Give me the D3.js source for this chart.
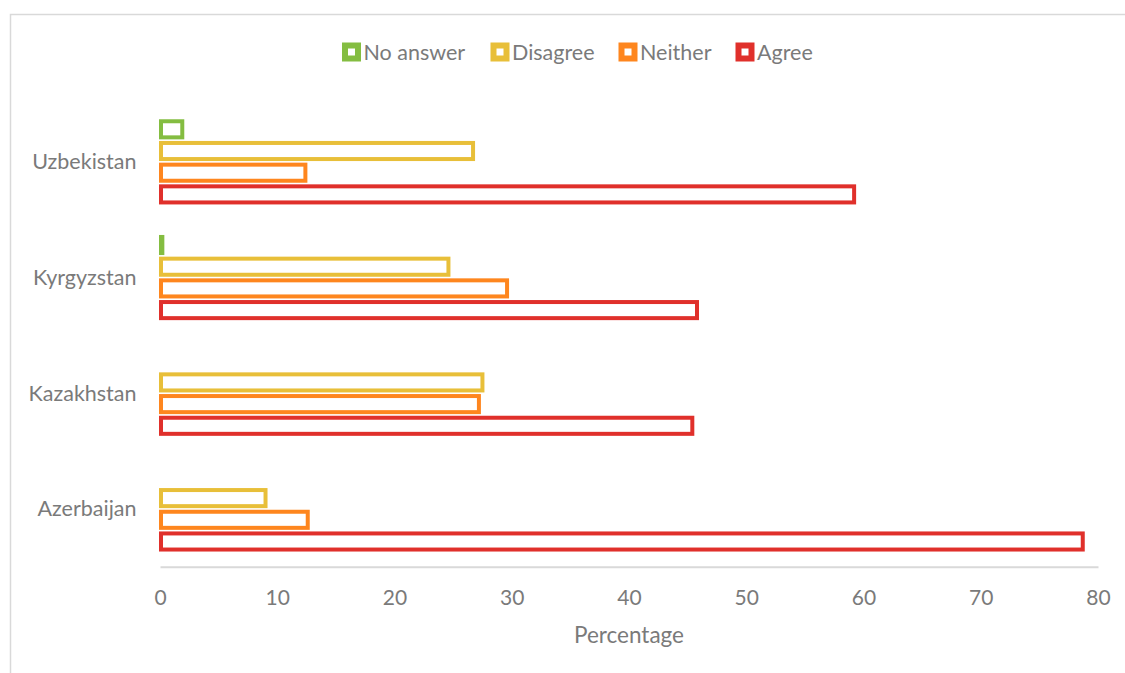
<!DOCTYPE html>
<html>
<head>
<meta charset="utf-8">
<script src="https://cdn.jsdelivr.net/npm/d3@7"></script>
<style>
  html, body { margin: 0; padding: 0; background: #ffffff; }
  svg { display: block; }
  text { font-family: Lato, "Open Sans", sans-serif; fill: #7a7a7a; }
</style>
</head>
<body>
<svg id="chart" width="1125" height="673"></svg>
<script>
// Survey answers by country, percentage of respondents
const countries = ["Uzbekistan", "Kyrgyzstan", "Kazakhstan", "Azerbaijan"];
const seriesNames = ["No answer", "Disagree", "Neither", "Agree"];
const seriesColors = ["#84bd41", "#e8bf39", "#fe861e", "#e0302b"];
const noAnswer = [1.9, 0.2, 0, 0];
const disagree = [26.7, 24.6, 27.5, 9.0];
const neither = [12.4, 29.6, 27.2, 12.6];
const agree = [59.2, 45.8, 45.4, 78.7];
const xTicks = [0, 10, 20, 30, 40, 50, 60, 70, 80];
const xTitle = "Percentage";

const seriesValues = [noAnswer, disagree, neither, agree];

const svg = d3.select("#chart");

// outer chart frame
svg.append("rect")
  .attr("x", 10.5).attr("y", 14.5)
  .attr("width", 1200).attr("height", 700)
  .attr("fill", "none").attr("stroke", "#d9d9d9").attr("stroke-width", 1.5);

const x = d3.scaleLinear().domain([0, 80]).range([160, 1098]);

const y0 = d3.scaleBand()
  .domain(countries)
  .range([104, 566.8])
  .paddingInner(0.25)
  .paddingOuter(0.125);

const y1 = d3.scaleBand()
  .domain(seriesNames)
  .range([0, y0.bandwidth()]);

const strokeW = 4;
const barH = y1.step() - 5.6;

// category axis labels
svg.append("g")
  .selectAll("text")
  .data(countries)
  .join("text")
  .attr("x", 136.5)
  .attr("y", d => y0(d) + y0.bandwidth() / 2)
  .attr("dy", "0.35em")
  .attr("text-anchor", "end")
  .style("font-size", "21.5px")
  .text(d => d);

// value axis baseline and tick labels
const xAxis = svg.append("g")
  .attr("transform", `translate(0,${566.8})`)
  .call(d3.axisBottom(x).tickValues(xTicks).tickSize(0).tickPadding(23).tickFormat(d3.format("d")));
xAxis.select(".domain").attr("stroke", "#d9d9d9").attr("stroke-width", 2);
xAxis.selectAll(".tick text")
  .style("font-size", "21px")
  .style("font-family", "Lato, 'Open Sans', sans-serif")
  .attr("fill", "#7a7a7a");

svg.append("text")
  .attr("x", (x(0) + x(80)) / 2)
  .attr("y", 643)
  .attr("text-anchor", "middle")
  .style("font-size", "22.5px")
  .text(xTitle);

// outlined bars
const groups = svg.append("g")
  .selectAll("g")
  .data(countries)
  .join("g")
  .attr("transform", d => `translate(0,${y0(d)})`);

groups.selectAll("rect")
  .data((c, ci) => seriesNames.map((s, si) => ({ series: s, si, value: seriesValues[si][ci] })))
  .join("rect")
  .filter(d => d.value > 0)
  .attr("x", x(0) + strokeW / 2 - 1)
  .attr("y", d => y1(d.series) + (y1.step() - barH) / 2)
  .attr("width", d => Math.max(0.01, x(d.value) - x(0) - strokeW / 2 + 1))
  .attr("height", barH)
  .attr("fill", "#ffffff")
  .attr("stroke", d => seriesColors[d.si])
  .attr("stroke-width", strokeW);

// legend
const legendItems = [
  { name: seriesNames[0], color: seriesColors[0], x: 342 },
  { name: seriesNames[1], color: seriesColors[1], x: 490.5 },
  { name: seriesNames[2], color: seriesColors[2], x: 618.5 },
  { name: seriesNames[3], color: seriesColors[3], x: 735.5 }
];
const legend = svg.append("g").selectAll("g")
  .data(legendItems)
  .join("g")
  .attr("transform", d => `translate(${d.x},42.5)`);
legend.append("rect")
  .attr("x", 3).attr("y", 3)
  .attr("width", 13).attr("height", 13)
  .attr("fill", "#ffffff")
  .attr("stroke", d => d.color)
  .attr("stroke-width", 6);
legend.append("text")
  .attr("x", 21.5)
  .attr("y", 9.5)
  .attr("dy", "0.35em")
  .style("font-size", "21.5px")
  .text(d => d.name);
</script>
</body>
</html>
